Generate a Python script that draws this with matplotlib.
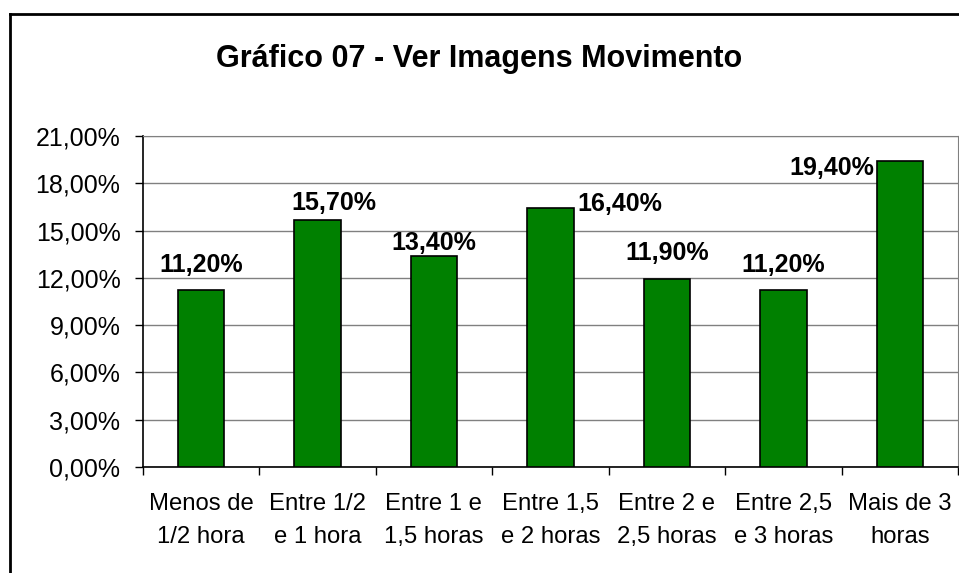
import numpy as np
import matplotlib.pyplot as plt
from matplotlib.lines import Line2D

plt.rcParams['font.family'] = ['Liberation Sans', 'DejaVu Sans']

# dados do gráfico
categorias = ['Menos de\n1/2 hora', 'Entre 1/2\ne 1 hora', 'Entre 1 e\n1,5 horas',
              'Entre 1,5\ne 2 horas', 'Entre 2 e\n2,5 horas', 'Entre 2,5\ne 3 horas',
              'Mais de 3\nhoras']
valores = [11.2, 15.7, 13.4, 16.4, 11.9, 11.2, 19.4]
rotulos = ['11,20%', '15,70%', '13,40%', '16,40%', '11,90%', '11,20%', '19,40%']
yticks = [0, 3, 6, 9, 12, 15, 18, 21]

# deslocamento dos rótulos (pontos), como no Excel
desloc_x = [0, 12, 0, 50, 0, 0, -49]
desloc_y = [18, 12, 9, 3, 19, 18, -5]

fig = plt.figure(figsize=(9.59, 5.73), dpi=100)
ax = fig.add_axes([0.1488, 0.185, 0.8502, 0.5777])

x = np.arange(len(valores))
barras = ax.bar(x, valores, width=0.4, color='#008000', edgecolor='black',
                linewidth=1.2, zorder=3)

for i, b in enumerate(barras):
    ax.annotate(rotulos[i], (b.get_x() + b.get_width() / 2, b.get_height()),
                xytext=(desloc_x[i], desloc_y[i]), textcoords='offset points',
                ha='center', va='center', fontsize=18, fontweight='bold')

ax.set_xlim(-0.5, len(valores) - 0.5)
ax.set_ylim(0, 21)
ax.set_yticks(yticks)
ax.set_yticklabels(['%d,00%%' % v for v in yticks], fontsize=18)
ax.set_xticks(x)
ax.set_xticklabels(categorias, fontsize=17.2, linespacing=1.6)
ax.set_xticks(np.arange(-0.5, len(valores)), minor=True)
ax.tick_params(axis='x', which='major', length=0, pad=19)
ax.tick_params(axis='x', which='minor', length=6, width=1, direction='out')
ax.tick_params(axis='y', length=6, width=1, direction='out', pad=10)

ax.yaxis.grid(True, color='#808080', linewidth=1, zorder=0)
ax.spines['top'].set_color('#808080')
ax.spines['right'].set_color('#808080')
ax.spines['left'].set_linewidth(1.2)
ax.spines['bottom'].set_linewidth(1.2)

fig.text(0.4995, 0.897, 'Gráfico 07 - Ver Imagens Movimento', ha='center',
         va='center', fontsize=22, fontweight='bold')

# moldura externa
fig.add_artist(Line2D([0.0104, 1.0], [0.9756, 0.9756], color='black', linewidth=2))
fig.add_artist(Line2D([0.0104, 0.0104], [0.0, 0.9756], color='black', linewidth=2))

fig.savefig('out.png', dpi=100)
